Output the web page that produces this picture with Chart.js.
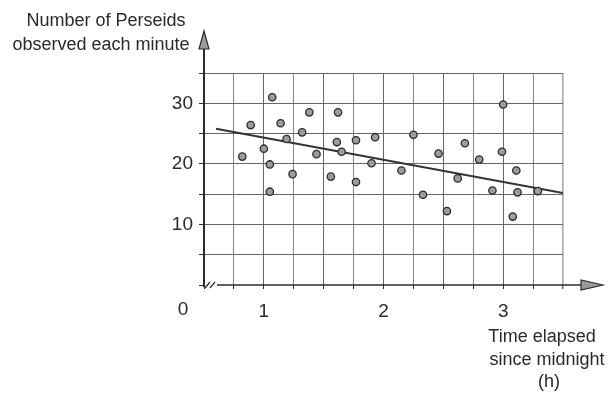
<!DOCTYPE html>
<html>
<head>
<meta charset="utf-8">
<script src="https://cdn.jsdelivr.net/npm/chart.js@4.4.0/dist/chart.umd.min.js"></script>
<style>
  html, body { margin: 0; padding: 0; background: #fff; }
  #wrap { width: 610px; height: 397px; position: relative; }
</style>
</head>
<body>
<div id="wrap"><canvas id="c" width="610" height="397"></canvas></div>
<script>
// Time after midnight (hours) and meteors counted per minute
const hours = [0.82, 0.89, 1.00, 1.05, 1.05, 1.07, 1.14, 1.19, 1.24, 1.32, 1.38, 1.44,
               1.56, 1.62, 1.61, 1.65, 1.77, 1.77, 1.90, 1.93, 2.15, 2.25, 2.33, 2.46,
               2.53, 2.62, 2.68, 2.80, 2.91, 2.99, 3.00, 3.08, 3.11, 3.12, 3.29];
const perseids = [21.2, 26.4, 22.5, 19.9, 15.4, 31.0, 26.7, 24.1, 18.3, 25.2, 28.5, 21.6,
                  17.9, 28.5, 23.6, 22.0, 23.9, 17.0, 20.1, 24.4, 18.9, 24.8, 14.9, 21.7,
                  12.2, 17.6, 23.4, 20.7, 15.6, 22.0, 29.8, 11.3, 18.9, 15.3, 15.5];

// Line of best fit, end points
const trendHours = [0.6, 3.5];
const trendCounts = [25.8, 15.2];

// Labelled ticks
const xTickLabels = [1, 2, 3];
const yTickLabels = [10, 20, 30];

const yTitle = ['Number of Perseids', 'observed each minute'];
const xTitle = ['Time elapsed', 'since midnight', '(h)'];

const FONT = "'Liberation Sans', Arial, sans-serif";
const INK = '#2a2a2a';

const scatterPts = hours.map((h, i) => ({ x: h, y: perseids[i] }));
const trendPts = trendHours.map((h, i) => ({ x: h, y: trendCounts[i] }));

// Axes with arrowheads, the broken-axis mark, origin label and axis titles
const axesDecor = {
  id: 'axesDecor',
  afterDraw(chart) {
    const { ctx, chartArea: a, scales } = chart;
    const x0 = scales.x.getPixelForValue(0.5);
    const y0 = scales.y.getPixelForValue(0);
    ctx.save();
    ctx.strokeStyle = INK;
    ctx.lineCap = 'butt';

    // vertical axis
    ctx.lineWidth = 2;
    ctx.beginPath();
    ctx.moveTo(x0, y0 + 2);
    ctx.lineTo(x0, a.top - 24);
    ctx.stroke();
    ctx.beginPath();
    ctx.moveTo(x0, a.top - 42);
    ctx.lineTo(x0 - 5, a.top - 24);
    ctx.lineTo(x0 + 5, a.top - 24);
    ctx.closePath();
    ctx.fillStyle = '#9a9a9a';
    ctx.fill();
    ctx.lineWidth = 1.2;
    ctx.stroke();

    // horizontal axis (starts after the break)
    ctx.lineWidth = 1.6;
    ctx.beginPath();
    ctx.moveTo(x0 + 13, y0);
    ctx.lineTo(a.right + 18, y0);
    ctx.stroke();
    ctx.beginPath();
    ctx.moveTo(a.right + 40, y0);
    ctx.lineTo(a.right + 18, y0 - 5);
    ctx.lineTo(a.right + 18, y0 + 5);
    ctx.closePath();
    ctx.fillStyle = '#9a9a9a';
    ctx.fill();
    ctx.lineWidth = 1.2;
    ctx.stroke();

    // break mark
    ctx.lineWidth = 1.2;
    ctx.beginPath();
    ctx.moveTo(x0 + 1, y0 + 3);
    ctx.lineTo(x0 + 6, y0 - 3);
    ctx.moveTo(x0 + 6, y0 + 3);
    ctx.lineTo(x0 + 11, y0 - 3);
    ctx.stroke();

    // texts
    ctx.fillStyle = INK;
    ctx.textAlign = 'center';
    ctx.textBaseline = 'middle';
    ctx.font = '19px ' + FONT;
    ctx.fillText('0', x0 - 21, y0 + 25);
    ctx.font = '18px ' + FONT;
    ctx.fillText(yTitle[0], 106, 21);
    ctx.fillText(yTitle[1], 101, 45);
    ctx.fillText(xTitle[0], 542, 337);
    ctx.fillText(xTitle[1], 547, 360);
    ctx.fillText(xTitle[2], 549, 382);
    ctx.restore();
  }
};

const gridColor = (edgeValue, maxValue) => (c) => {
  const v = c.tick && c.tick.value;
  if (v === edgeValue) return 'rgba(0,0,0,0)';
  if (v === maxValue) return '#a8a8a8';
  return Number.isInteger(v) || Number.isInteger(v * 2) ? '#666' : '#888';
};

new Chart(document.getElementById('c'), {
  data: {
    datasets: [
      {
        type: 'line',
        data: trendPts,
        borderColor: '#333',
        borderWidth: 2,
        pointRadius: 0,
        fill: false,
        order: 2
      },
      {
        type: 'scatter',
        data: scatterPts,
        pointRadius: 3.7,
        pointBackgroundColor: '#9c9c9c',
        pointBorderColor: '#2b2b2b',
        pointBorderWidth: 1.3,
        order: 1
      }
    ]
  },
  options: {
    responsive: false,
    animation: false,
    events: [],
    layout: { padding: { left: 0, top: 73, right: 47, bottom: 0 } },
    plugins: { legend: { display: false }, tooltip: { enabled: false } },
    scales: {
      x: {
        type: 'linear',
        min: 0.5,
        max: 3.5,
        afterFit(s) { s.height = 112; },
        border: { display: false },
        grid: {
          color: gridColor(0.5, 3.5),
          lineWidth: (c) => (c.tick && c.tick.value === 3.5 ? 1.6 : 1),
          borderDash: [2, 2],
          tickLength: 4,
          tickColor: INK,
          tickWidth: 1
        },
        ticks: {
          stepSize: 0.25,
          autoSkip: false,
          maxRotation: 0,
          padding: 11,
          color: INK,
          font: { family: FONT, size: 19 },
          callback: (v) => (xTickLabels.includes(v) ? String(v) : '')
        }
      },
      y: {
        type: 'linear',
        min: 0,
        max: 35,
        afterFit(s) { s.width = 204; },
        border: { display: false },
        grid: {
          color: gridColor(0, -1),
          borderDash: [2, 2],
          tickLength: 5,
          tickColor: INK,
          tickWidth: 1
        },
        ticks: {
          stepSize: 5,
          autoSkip: false,
          padding: 6,
          color: INK,
          font: { family: FONT, size: 19 },
          callback: (v) => (yTickLabels.includes(v) ? String(v) : '')
        }
      }
    }
  },
  plugins: [axesDecor]
});
</script>
</body>
</html>
